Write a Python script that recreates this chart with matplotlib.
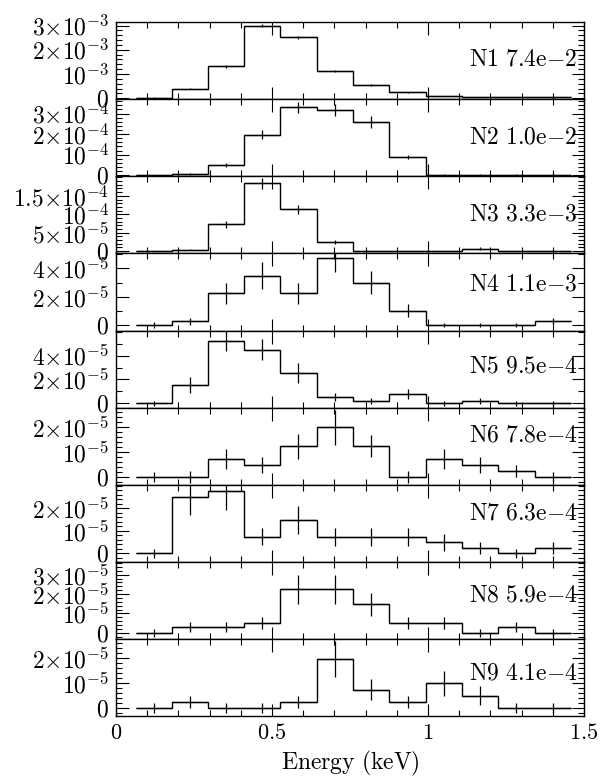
import numpy as np
import matplotlib
matplotlib.use("Agg")
import matplotlib.pyplot as plt
from matplotlib.ticker import FixedLocator, MultipleLocator, FuncFormatter

plt.rcParams['mathtext.fontset'] = 'cm'
plt.rcParams['font.family'] = 'serif'
plt.rcParams['font.serif'] = ['cmr10', 'DejaVu Serif']
plt.rcParams['axes.formatter.use_mathtext'] = True

# energy bin edges (keV)
edges = [0.0627, 0.178, 0.294, 0.41, 0.526, 0.643, 0.759, 0.876, 0.994, 1.109, 1.225, 1.342, 1.458]

names = ["N1", "N2", "N3", "N4", "N5", "N6", "N7", "N8", "N9"]
norms = ["7.4e-2", "1.0e-2", "3.3e-3", "1.1e-3", "9.5e-4", "7.8e-4", "6.3e-4", "5.9e-4", "4.1e-4"]

n1 = [0.02e-3, 0.39e-3, 1.31e-3, 3.0e-3, 2.51e-3, 1.14e-3, 0.54e-3, 0.25e-3, 0.08e-3, 0.04e-3, 0.04e-3, 0.03e-3]
n1_err = [0.01e-3, 0.03e-3, 0.05e-3, 0.07e-3, 0.06e-3, 0.04e-3, 0.03e-3, 0.02e-3, 0.01e-3, 0.01e-3, 0.01e-3, 0.01e-3]
n2 = [0.01e-4, 0.07e-4, 0.5e-4, 1.98e-4, 3.3e-4, 3.18e-4, 2.6e-4, 0.87e-4, 0.03e-4, 0.03e-4, 0.03e-4, 0.03e-4]
n2_err = [0.02e-4, 0.04e-4, 0.1e-4, 0.2e-4, 0.27e-4, 0.3e-4, 0.28e-4, 0.1e-4, 0.02e-4, 0.02e-4, 0.02e-4, 0.02e-4]
n3 = [0.0, 0.04e-4, 0.73e-4, 1.84e-4, 1.13e-4, 0.25e-4, 0.0, 0.0, 0.0, 0.07e-4, 0.0, 0.0]
n3_err = [0.1e-5, 0.2e-5, 1.0e-5, 1.5e-5, 1.3e-5, 0.5e-5, 0.1e-5, 0.1e-5, 0.1e-5, 0.3e-5, 0.1e-5, 0.1e-5]
n4 = [0.0, 0.26e-5, 2.23e-5, 3.49e-5, 2.23e-5, 4.74e-5, 3.0e-5, 1.0e-5, 0.0, 0.0, 0.0, 0.26e-5]
n4_err = [0.2e-5, 0.25e-5, 0.72e-5, 0.93e-5, 0.76e-5, 1.0e-5, 0.8e-5, 0.45e-5, 0.15e-5, 0.15e-5, 0.15e-5, 0.25e-5]
n5 = [0.0, 1.54e-5, 5.26e-5, 4.5e-5, 2.52e-5, 0.5e-5, 0.22e-5, 0.78e-5, 0.0, 0.22e-5, 0.0, 0.0]
n5_err = [0.2e-5, 0.67e-5, 0.9e-5, 0.9e-5, 0.85e-5, 0.35e-5, 0.25e-5, 0.4e-5, 0.2e-5, 0.25e-5, 0.2e-5, 0.2e-5]
n6 = [0.0, 0.0, 0.73e-5, 0.48e-5, 1.24e-5, 1.99e-5, 1.24e-5, 0.0, 0.73e-5, 0.48e-5, 0.24e-5, 0.0]
n6_err = [0.2e-5, 0.25e-5, 0.4e-5, 0.32e-5, 0.5e-5, 0.7e-5, 0.45e-5, 0.25e-5, 0.4e-5, 0.32e-5, 0.25e-5, 0.2e-5]
n7 = [0.0, 2.52e-5, 2.77e-5, 0.74e-5, 1.5e-5, 0.74e-5, 0.74e-5, 0.74e-5, 0.49e-5, 0.24e-5, 0.0, 0.24e-5]
n7_err = [0.2e-5, 0.8e-5, 0.85e-5, 0.37e-5, 0.62e-5, 0.4e-5, 0.4e-5, 0.4e-5, 0.37e-5, 0.25e-5, 0.2e-5, 0.25e-5]
n8 = [0.0, 0.28e-5, 0.28e-5, 0.5e-5, 2.24e-5, 2.24e-5, 1.48e-5, 0.5e-5, 0.5e-5, 0.0, 0.28e-5, 0.0]
n8_err = [0.2e-5, 0.25e-5, 0.25e-5, 0.32e-5, 0.73e-5, 0.75e-5, 0.6e-5, 0.33e-5, 0.33e-5, 0.2e-5, 0.25e-5, 0.2e-5]
n9 = [0.0, 0.24e-5, 0.0, 0.0, 0.24e-5, 1.97e-5, 0.73e-5, 0.24e-5, 0.99e-5, 0.49e-5, 0.0, 0.0]
n9_err = [0.2e-5, 0.25e-5, 0.2e-5, 0.2e-5, 0.25e-5, 0.72e-5, 0.42e-5, 0.25e-5, 0.49e-5, 0.38e-5, 0.2e-5, 0.2e-5]

values = [n1, n2, n3, n4, n5, n6, n7, n8, n9]
errors = [n1_err, n2_err, n3_err, n4_err, n5_err, n6_err, n7_err, n8_err, n9_err]

ylims = [(-0.04e-3, 3.15e-3), (-0.05e-4, 3.7e-4), (-0.064e-4, 2.03e-4), (-0.4e-5, 5.05e-5),
         (-0.39e-5, 6.1e-5), (-0.31e-5, 2.77e-5), (-0.39e-5, 3.04e-5), (-0.34e-5, 3.65e-5),
         (-0.33e-5, 2.75e-5)]
yticks = [[0, 1e-3, 2e-3, 3e-3], [0, 1e-4, 2e-4, 3e-4], [0, 5e-5, 1e-4, 1.5e-4], [0, 2e-5, 4e-5],
          [0, 2e-5, 4e-5], [0, 1e-5, 2e-5], [0, 1e-5, 2e-5], [0, 1e-5, 2e-5, 3e-5], [0, 1e-5, 2e-5]]
yminor = [2e-4, 2e-5, 1e-5, 1e-5, 1e-5, 2e-6, 2e-6, 2e-6, 2e-6]
label_y = [0.52, 0.5, 0.51, 0.6, 0.53, 0.64, 0.63, 0.57, 0.56]


def sci_label(v, pos=None):
    if v == 0:
        return r"$0$"
    e = int(np.floor(np.log10(abs(v)) + 1e-9))
    m = round(v / 10.0 ** e, 2)
    if m == 1:
        return r"$10^{%d}$" % e
    return r"$%g{\times}10^{%d}$" % (m, e)


edges_a = np.array(edges)
centers = 0.5 * (edges_a[:-1] + edges_a[1:])
halfw = 0.5 * np.diff(edges_a)

fig, axes = plt.subplots(9, 1, figsize=(6.15, 7.77), dpi=100, sharex=True)
fig.subplots_adjust(left=0.1886, right=0.9496, top=0.9717, bottom=0.0779, hspace=0)

for i, ax in enumerate(axes):
    ax.stairs(values[i], edges, baseline=None, color='k', lw=1.0)
    ax.errorbar(centers, values[i], xerr=halfw, yerr=errors[i], fmt='none', ecolor='k', elinewidth=0.9)
    ax.set_xlim(0, 1.5)
    ax.set_ylim(*ylims[i])
    ax.yaxis.set_major_locator(FixedLocator(yticks[i]))
    ax.yaxis.set_minor_locator(MultipleLocator(yminor[i]))
    ax.yaxis.set_major_formatter(FuncFormatter(sci_label))
    ax.xaxis.set_major_locator(MultipleLocator(0.5))
    ax.xaxis.set_minor_locator(MultipleLocator(0.1))
    ax.xaxis.set_major_formatter(FuncFormatter(lambda v, p: r"$%g$" % v))
    ax.tick_params(which='both', direction='in', top=True, right=True, width=0.8, pad=5)
    ax.tick_params(axis='y', labelsize=17)
    ax.tick_params(axis='x', labelsize=16)
    ax.tick_params(which='major', length=9)
    ax.tick_params(which='minor', length=4.5)
    for sp in ax.spines.values():
        sp.set_linewidth(1.0)
    ax.text(0.985, label_y[i], r"$\mathrm{%s\ %s}$" % (names[i], norms[i].replace('-', '{-}')),
            transform=ax.transAxes, ha='right', va='center', fontsize=17)

axes[-1].set_xlabel(r"$\mathrm{Energy\ (keV)}$", fontsize=17, labelpad=4)

fig.savefig("out.png", dpi=100)
